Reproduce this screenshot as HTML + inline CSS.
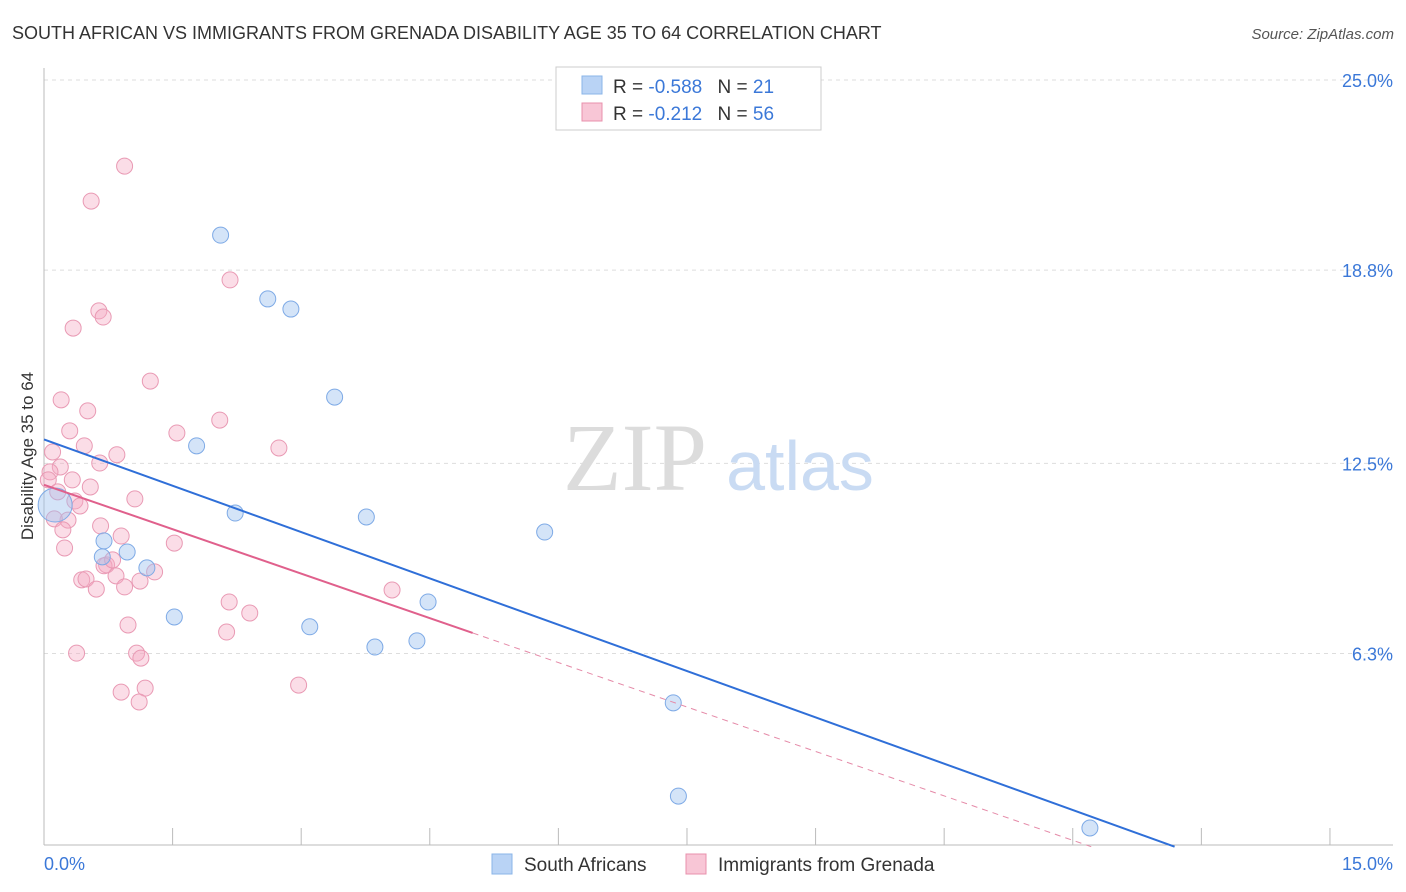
<!DOCTYPE html>
<html><head><meta charset="utf-8"><style>
body{margin:0;background:#fff;font-family:"Liberation Sans",sans-serif}
</style></head><body>
<svg width="1406" height="892" xmlns="http://www.w3.org/2000/svg" style="display:block">
<text x="12" y="39" font-size="18" fill="#333">SOUTH AFRICAN VS IMMIGRANTS FROM GRENADA DISABILITY AGE 35 TO 64 CORRELATION CHART</text>
<text x="1394" y="39" font-size="15" fill="#555" text-anchor="end" font-style="italic">Source: ZipAtlas.com</text>
<g id="grid"></g>
<text x="635" y="490" font-size="96" fill="#dcdcdc" text-anchor="middle" font-family="Liberation Serif, serif">ZIP</text>
<text x="800" y="490" font-size="70" fill="#c9dbf3" text-anchor="middle">atlas</text>
<g id="marks"></g>
<text transform="translate(33,456) rotate(-90)" font-size="17" fill="#333" text-anchor="middle">Disability Age 35 to 64</text>
<text x="44" y="870" font-size="18" fill="#3b78d8">0.0%</text>
<text x="1393" y="870" font-size="18" fill="#3b78d8" text-anchor="end">15.0%</text>
<g>
<rect x="556" y="67" width="265" height="63" fill="#fff" stroke="#ccc"/>
<rect x="582" y="76" width="20" height="18" fill="#b9d3f5" stroke="#8ab4e8"/>
<rect x="582" y="103" width="20" height="18" fill="#f8c6d6" stroke="#e890ac"/>
<text x="613" y="93" font-size="19" fill="#333">R = <tspan fill="#3b78d8">-0.588</tspan>   <tspan dx="10">N = </tspan><tspan fill="#3b78d8">21</tspan></text>
<text x="613" y="120" font-size="19" fill="#333">R =  <tspan fill="#3b78d8">-0.212</tspan>   <tspan dx="10">N = </tspan><tspan fill="#3b78d8">56</tspan></text>
</g>
<g>
<rect x="492" y="854" width="20" height="20" fill="#b9d3f5" stroke="#8ab4e8"/>
<text x="524" y="871" font-size="19" fill="#333">South Africans</text>
<rect x="686" y="854" width="20" height="20" fill="#f8c6d6" stroke="#e890ac"/>
<text x="718" y="871" font-size="19" fill="#333">Immigrants from Grenada</text>
</g>
</svg>
<script>
const yTicks=[25.0,18.8,12.5,6.3];
const yTickLabels=["25.0%","18.8%","12.5%","6.3%"];
const xTicks=[1.5,3,4.5,6,7.5,9,10.5,12,13.5,15];
const blueX=[2.06,2.61,2.88,3.39,1.78,2.23,3.76,5.84,0.70,0.97,0.68,1.20,1.52,3.10,4.48,3.86,4.35,7.34,7.40,12.20,0.13];
const blueY=[19.94,17.86,17.53,14.66,13.07,10.88,10.75,10.26,9.97,9.61,9.45,9.09,7.49,7.17,7.98,6.51,6.71,4.69,1.65,0.61,11.14];
const blueBig=[0,0,0,0,0,0,0,0,0,0,0,0,0,0,0,0,0,0,0,0,1];
const pinkX=[0.94,0.55,2.17,0.34,0.64,0.69,1.24,0.20,0.51,2.05,0.30,1.55,0.47,2.74,0.85,0.65,0.10,0.19,0.07,0.05,0.33,0.54,0.36,1.06,0.42,0.28,0.12,0.22,0.66,0.90,1.52,0.24,0.73,1.29,0.84,0.44,0.49,1.12,0.61,0.94,4.06,2.16,2.40,0.98,2.13,0.38,1.08,1.13,2.97,1.18,0.90,1.11,0.70,0.16,0.80];
const pinkY=[22.19,21.05,18.48,16.91,17.47,17.27,15.18,14.57,14.21,13.91,13.56,13.49,13.07,13.00,12.78,12.51,12.87,12.38,12.22,11.96,11.96,11.73,11.27,11.34,11.11,10.65,10.69,10.33,10.46,10.13,9.90,9.74,9.19,8.96,8.83,8.70,8.73,8.66,8.40,8.47,8.37,7.98,7.62,7.23,7.00,6.31,6.31,6.15,5.27,5.17,5.04,4.72,9.16,11.57,9.35];
const blueTrend=[13.28,-1.007];  // intercept, slope
const pinkTrend=[11.80,-0.966];
const pinkSolidEnd=5.0;
const NS="http://www.w3.org/2000/svg";
const X=v=>44+v*85.73, Y=v=>846.7-v*30.67;
function mk(tag,attrs,parent){const e=document.createElementNS(NS,tag);for(const k in attrs)e.setAttribute(k,attrs[k]);parent.appendChild(e);return e;}
const grid=document.getElementById('grid'), marks=document.getElementById('marks');
yTicks.forEach((t,i)=>{
 const l=mk('line',{x1:44,x2:1393,y1:Y(t),y2:Y(t),stroke:'#ddd','stroke-dasharray':'4,4'},grid);
 
 
 const tx=mk('text',{x:1393,y:Y(t)+7,'font-size':18,fill:'#3b78d8','text-anchor':'end'},grid);
 tx.textContent=yTickLabels[i];
 
 
});
const ax=mk('line',{x1:44,x2:44,y1:68,y2:845,stroke:'#bbb'},grid);


const bx=mk('line',{x1:44,x2:1393,y1:845,y2:845,stroke:'#bbb'},grid);


xTicks.forEach(t=>{
 const l=mk('line',{x1:X(t),x2:X(t),y1:828,y2:845,stroke:'#bbb'},grid);
 
 
});
pinkX.forEach((v,i)=>{
 const c=mk('circle',{cx:X(v),cy:Y(pinkY[i]),r:8,fill:'rgba(244,170,196,0.4)',stroke:'#e99ab4','stroke-width':1},marks);
 
 
});
blueX.forEach((v,i)=>{
 const c=mk('circle',{cx:X(v),cy:Y(blueY[i]),r:blueBig[i]?17:8,fill:'rgba(160,195,240,0.45)',stroke:'#7eaae6','stroke-width':1},marks);
 
 
});
const bEnd=-blueTrend[0]/blueTrend[1];
const bl=mk('line',{x1:X(0),y1:Y(blueTrend[0]),x2:X(bEnd),y2:Y(0),stroke:'#2f6fd8','stroke-width':2},marks);


const pEnd=-pinkTrend[0]/pinkTrend[1];
const py=x=>pinkTrend[0]+pinkTrend[1]*x;
const pl=mk('line',{x1:X(0),y1:Y(py(0)),x2:X(pinkSolidEnd),y2:Y(py(pinkSolidEnd)),stroke:'#e0608c','stroke-width':2},marks);


const pd=mk('line',{x1:X(pinkSolidEnd),y1:Y(py(pinkSolidEnd)),x2:X(pEnd),y2:Y(0),stroke:'#e58aa8','stroke-width':1,'stroke-dasharray':'6,5'},marks);


</script>
</body></html>
